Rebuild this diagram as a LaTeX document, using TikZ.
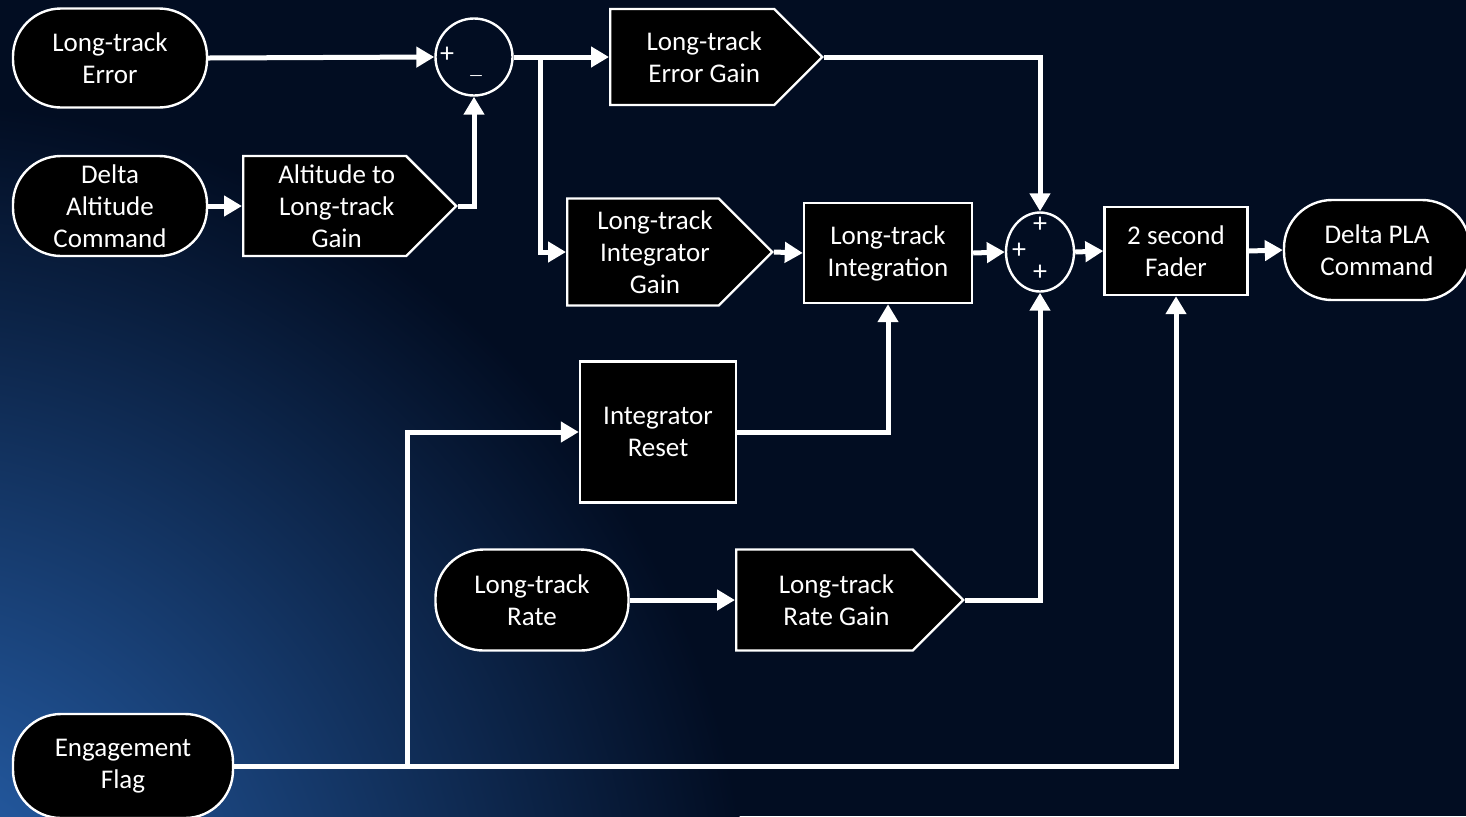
\documentclass[tikz,border=0pt]{standalone}
\usepackage{fontspec}
\setmainfont{Carlito}
\usetikzlibrary{arrows.meta, positioning, shapes.geometric, shapes.symbols}
\definecolor{navy}{HTML}{020D22}
\definecolor{glow}{HTML}{2A68B8}

\begin{document}
\begin{tikzpicture}[x=0.5pt, y=-0.5pt, >={Triangle[length=9pt,width=10pt]},
  font=\fontsize{13.5}{16}\selectfont,
  blok/.style={draw=white, fill=black, text=white, line width=1.2pt, align=center, inner sep=2pt},
  terminal/.style={blok, rounded corners=24pt},
  zisk/.style={blok, signal, signal to=east, signal pointer angle=90, anchor=west},
  popis/.style={text=white, align=center, xshift=6pt},
  soucet/.style={draw=white, line width=1.2pt, fill=none},
  znak/.style={text=white, inner sep=0pt, font=\fontsize{14}{14}\selectfont},
  spoj/.style={draw=white, line width=2.5pt, ->}]
  % Pozadi
  \fill[navy] (0,0) rectangle (1466,816);
  \begin{scope}
    \clip (0,0) rectangle (1466,816);
    \shade[inner color=glow, outer color=navy] (-100,950) circle[radius=850];
  \end{scope}
  \useasboundingbox (0,0) rectangle (1466,816);

  % Vstupy
  \node[terminal, minimum width=97pt, minimum height=49.5pt] (errIn) at (110,58) {Long-track\\Error};
  \node[terminal, minimum width=97pt, minimum height=50pt] (altIn) at (110,206) {Delta\\Altitude\\Command};
  \node[terminal, minimum width=96.5pt, minimum height=50.5pt] (rateIn) at (532,600) {Long-track\\Rate};
  \node[terminal, minimum width=110pt, minimum height=52pt] (engage) at (123,766) {Engagement\\Flag};
  \node[terminal, minimum width=93pt, minimum height=50pt] (out) at (1377,250) {Delta PLA\\Command};

  % Zesileni
  \node[zisk, minimum width=106.5pt, minimum height=50pt,
    label={[popis]center:Altitude to\\Long-track\\Gain}] (altGain) at (242,206) {};
  \node[zisk, minimum width=106pt, minimum height=48pt,
    label={[popis]center:Long-track\\Error Gain}] (errGain) at (609,57) {};
  \node[zisk, minimum width=102.5pt, minimum height=53.5pt,
    label={[popis]center:Long-track\\Integrator\\Gain}] (intGain) at (566,252) {};
  \node[zisk, minimum width=113.5pt, minimum height=50.5pt,
    label={[popis]center:Long-track\\Rate Gain}] (rateGain) at (735,600) {};

  % Bloky
  \node[blok, minimum width=84pt, minimum height=50pt] (integ) at (888,253) {Long-track\\Integration};
  \node[blok, minimum width=71.5pt, minimum height=44pt] (fader) at (1176,251) {2 second\\Fader};
  \node[blok, minimum width=78pt, minimum height=70.5pt] (reset) at (658,432) {Integrator\\Reset};

  % Scitacky
  \node[soucet, circle, minimum size=38.5pt] (sum1) at (474,57) {};
  \node[znak] (s1a) at (447,55) {+};
  \node[znak, font=\fontsize{8}{8}\selectfont] (s1b) at (476,78) {\textemdash};
  \node[soucet, ellipse, inner sep=0pt, minimum width=34pt, minimum height=39.5pt] (sum2) at (1040,252) {};
  \node[znak] (s2a) at (1040,225) {+};
  \node[znak] (s2b) at (1019,251) {+};
  \node[znak] (s2c) at (1040,273) {+};

  % Spoje
  \coordinate (split1) at (540,57);
  \coordinate (split2) at (407,766);
  \draw[spoj] (errIn.east) -- (sum1.west);
  \draw[spoj] (altIn.east) -- (altGain.west);
  \draw[spoj] (altGain.east) -| (sum1.south);
  \draw[spoj] (sum1.east) -- (errGain.west);
  \draw[spoj] (split1) |- (intGain.west);
  \draw[spoj] (errGain.east) -| (sum2.north);
  \draw[spoj] (intGain.east) -- (integ.west);
  \draw[spoj] (integ.east) -- (sum2.west);
  \draw[spoj] (sum2.east) -- (fader.west);
  \draw[spoj] (fader.east) -- (out.west);
  \draw[spoj] (reset.east) -| (integ.south);
  \draw[spoj] (rateIn.east) -- (rateGain.west);
  \draw[spoj] (rateGain.east) -| (sum2.south);
  \draw[spoj] (engage.east) -| (fader.south);
  \draw[spoj] (split2) |- (reset.west);
\end{tikzpicture}
\end{document}
